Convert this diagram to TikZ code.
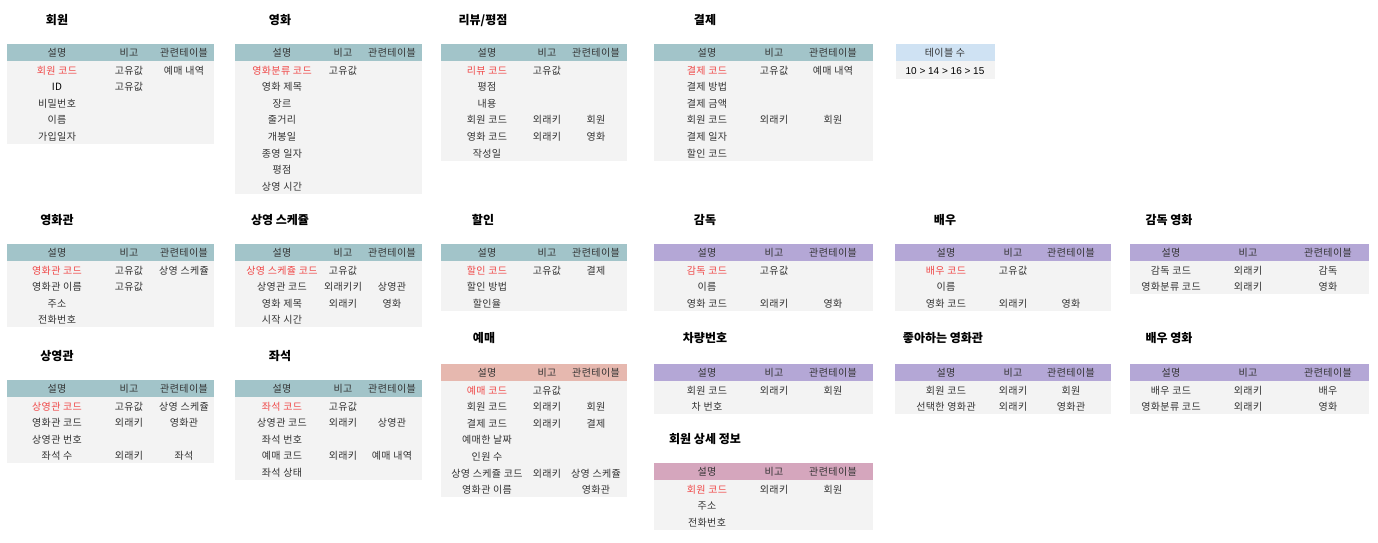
\documentclass[tikz,border=0pt]{standalone}
\usepackage{fontspec}
\setmainfont{Noto Sans CJK KR}
\newfontfamily\cellfont[LetterSpace=4]{Noto Sans CJK KR}
\newfontfamily\numfont{Liberation Sans}
\definecolor{hteal}{HTML}{A2C4C9}
\definecolor{hpurple}{HTML}{B4A7D6}
\definecolor{hsalmon}{HTML}{E6B8AF}
\definecolor{hmagenta}{HTML}{D5A6BD}
\definecolor{hblue}{HTML}{CFE2F3}
\definecolor{bodyfill}{HTML}{F3F3F3}
\definecolor{keyred}{HTML}{F04848}
\definecolor{txt}{HTML}{333333}
\newcommand{\tbox}[5]{%
  \fill[#5] (#1,#2) rectangle (#3,#2+17);
  \fill[bodyfill] (#1,#2+17) rectangle (#3,#2+17+#4*16.6);}
\newcommand{\setcols}[4]{\def\colA{#1}\def\colB{#2}\def\colC{#3}\def\topY{#4}}
\newcommand{\hrow}{%
  \node[cell] at (\colA,\topY+9) {설명};
  \node[cell] at (\colB,\topY+9) {비고};
  \node[cell] at (\colC,\topY+9) {관련테이블};}
\newcommand{\trow}[5][cell]{%
  \node[#1] at (\colA,\topY+9.7+#2*16.6) {#3};
  \node[cell] at (\colB,\topY+9.7+#2*16.6) {#4};
  \node[cell] at (\colC,\topY+9.7+#2*16.6) {#5};}
\begin{document}
\begin{tikzpicture}[x=1pt,y=-1pt,
  cell/.style={inner sep=0pt, text=txt, font=\cellfont\fontsize{10}{12}\selectfont, text height=7.5pt, text depth=0pt, anchor=center},
  key/.style={cell, text=keyred},
  ttl/.style={inner sep=0pt, font=\fontsize{12}{14}\selectfont\bfseries, text height=9pt, text depth=0pt, anchor=center}]
\useasboundingbox (0,0) rectangle (1378,543);
\fill[white] (0,0) rectangle (1378,543);

% ---------- titles ----------
\node[ttl] (t1) at (57,20) {회원};
\node[ttl] (t2) at (280,20) {영화};
\node[ttl] (t3) at (483,20) {리뷰/평점};
\node[ttl] (t4) at (705,20) {결제};
\node[ttl] (t5) at (57,220) {영화관};
\node[ttl] (t6) at (280,220) {상영 스케쥴};
\node[ttl] (t7) at (483,220) {할인};
\node[ttl] (t8) at (705,220) {감독};
\node[ttl] (t9) at (945,220) {배우};
\node[ttl] (t10) at (1169,220) {감독 영화};
\node[ttl] (t11) at (57,356) {상영관};
\node[ttl] (t12) at (280,356) {좌석};
\node[ttl] (t13) at (484,338) {예매};
\node[ttl] (t14) at (705,338) {차량번호};
\node[ttl] (t15) at (943,338) {좋아하는 영화관};
\node[ttl] (t16) at (1169,338) {배우 영화};
\node[ttl] (t17) at (705,439) {회원 상세 정보};

% ---------- 회원 ----------
\tbox{7}{44}{214}{5}{hteal}
\setcols{57}{129}{184}{44}\hrow
\trow[key]{1}{회원 코드}{고유값}{예매 내역}
\trow[cell,text=black]{2}{ID}{고유값}{}
\trow{3}{비밀번호}{}{}
\trow{4}{이름}{}{}
\trow{5}{가입일자}{}{}

% ---------- 영화 ----------
\tbox{235}{44}{422}{8}{hteal}
\setcols{282}{343}{392}{44}\hrow
\trow[key]{1}{영화분류 코드}{고유값}{}
\trow{2}{영화 제목}{}{}
\trow{3}{장르}{}{}
\trow{4}{줄거리}{}{}
\trow{5}{개봉일}{}{}
\trow{6}{종영 일자}{}{}
\trow{7}{평점}{}{}
\trow{8}{상영 시간}{}{}

% ---------- 리뷰/평점 ----------
\tbox{441}{44}{627}{6}{hteal}
\setcols{487}{547}{596}{44}\hrow
\trow[key]{1}{리뷰 코드}{고유값}{}
\trow{2}{평점}{}{}
\trow{3}{내용}{}{}
\trow{4}{회원 코드}{외래키}{회원}
\trow{5}{영화 코드}{외래키}{영화}
\trow{6}{작성일}{}{}

% ---------- 결제 ----------
\tbox{654}{44}{873}{6}{hteal}
\setcols{707}{774}{833}{44}\hrow
\trow[key]{1}{결제 코드}{고유값}{예매 내역}
\trow{2}{결제 방법}{}{}
\trow{3}{결제 금액}{}{}
\trow{4}{회원 코드}{외래키}{회원}
\trow{5}{결제 일자}{}{}
\trow{6}{할인 코드}{}{}

% ---------- 테이블 수 ----------
\fill[hblue] (896,44) rectangle (995,61);
\fill[bodyfill] (896,61) rectangle (995,79);
\node[cell] (tc1) at (945,53) {테이블 수};
\node[cell, text=black, font=\numfont\fontsize{10}{12}\selectfont] (tc2) at (945,70.5) {10 > 14 > 16 > 15};

% ---------- 영화관 ----------
\tbox{7}{244}{214}{4}{hteal}
\setcols{57}{129}{184}{244}\hrow
\trow[key]{1}{영화관 코드}{고유값}{상영 스케쥴}
\trow{2}{영화관 이름}{고유값}{}
\trow{3}{주소}{}{}
\trow{4}{전화번호}{}{}

% ---------- 상영 스케쥴 ----------
\tbox{235}{244}{422}{4}{hteal}
\setcols{282}{343}{392}{244}\hrow
\trow[key]{1}{상영 스케쥴 코드}{고유값}{}
\trow{2}{상영관 코드}{외래키키}{상영관}
\trow{3}{영화 제목}{외래키}{영화}
\trow{4}{시작 시간}{}{}

% ---------- 할인 ----------
\tbox{441}{244}{627}{3}{hteal}
\setcols{487}{547}{596}{244}\hrow
\trow[key]{1}{할인 코드}{고유값}{결제}
\trow{2}{할인 방법}{}{}
\trow{3}{할인율}{}{}

% ---------- 감독 ----------
\tbox{654}{244}{873}{3}{hpurple}
\setcols{707}{774}{833}{244}\hrow
\trow[key]{1}{감독 코드}{고유값}{}
\trow{2}{이름}{}{}
\trow{3}{영화 코드}{외래키}{영화}

% ---------- 배우 ----------
\tbox{895}{244}{1111}{3}{hpurple}
\setcols{946}{1013}{1071}{244}\hrow
\trow[key]{1}{배우 코드}{고유값}{}
\trow{2}{이름}{}{}
\trow{3}{영화 코드}{외래키}{영화}

% ---------- 감독 영화 ----------
\tbox{1130}{244}{1369}{2}{hpurple}
\setcols{1171}{1248}{1328}{244}\hrow
\trow{1}{감독 코드}{외래키}{감독}
\trow{2}{영화분류 코드}{외래키}{영화}

% ---------- 상영관 ----------
\tbox{7}{380}{214}{4}{hteal}
\setcols{57}{129}{184}{380}\hrow
\trow[key]{1}{상영관 코드}{고유값}{상영 스케쥴}
\trow{2}{영화관 코드}{외래키}{영화관}
\trow{3}{상영관 번호}{}{}
\trow{4}{좌석 수}{외래키}{좌석}

% ---------- 좌석 ----------
\tbox{235}{380}{422}{5}{hteal}
\setcols{282}{343}{392}{380}\hrow
\trow[key]{1}{좌석 코드}{고유값}{}
\trow{2}{상영관 코드}{외래키}{상영관}
\trow{3}{좌석 번호}{}{}
\trow{4}{예매 코드}{외래키}{예매 내역}
\trow{5}{좌석 상태}{}{}

% ---------- 예매 ----------
\tbox{441}{364}{627}{7}{hsalmon}
\setcols{487}{547}{596}{364}\hrow
\trow[key]{1}{예매 코드}{고유값}{}
\trow{2}{회원 코드}{외래키}{회원}
\trow{3}{결제 코드}{외래키}{결제}
\trow{4}{예매한 날짜}{}{}
\trow{5}{인원 수}{}{}
\trow{6}{상영 스케쥴 코드}{외래키}{상영 스케쥴}
\trow{7}{영화관 이름}{}{영화관}

% ---------- 차량번호 ----------
\tbox{654}{364}{873}{2}{hpurple}
\setcols{707}{774}{833}{364}\hrow
\trow{1}{회원 코드}{외래키}{회원}
\trow{2}{차 번호}{}{}

% ---------- 회원 상세 정보 ----------
\tbox{654}{463}{873}{3}{hmagenta}
\setcols{707}{774}{833}{463}\hrow
\trow[key]{1}{회원 코드}{외래키}{회원}
\trow{2}{주소}{}{}
\trow{3}{전화번호}{}{}

% ---------- 좋아하는 영화관 ----------
\tbox{895}{364}{1111}{2}{hpurple}
\setcols{946}{1013}{1071}{364}\hrow
\trow{1}{회원 코드}{외래키}{회원}
\trow{2}{선택한 영화관}{외래키}{영화관}

% ---------- 배우 영화 ----------
\tbox{1130}{364}{1369}{2}{hpurple}
\setcols{1171}{1248}{1328}{364}\hrow
\trow{1}{배우 코드}{외래키}{배우}
\trow{2}{영화분류 코드}{외래키}{영화}
\end{tikzpicture}
\end{document}
